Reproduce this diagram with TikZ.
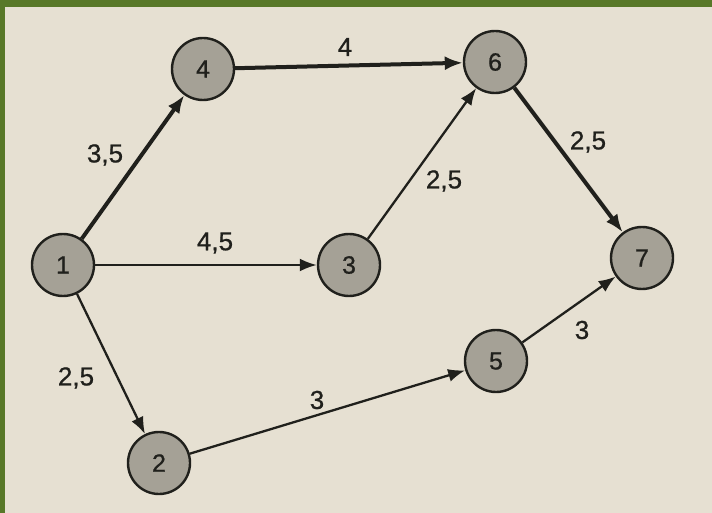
\documentclass[tikz,border=0pt]{standalone}
\usepackage{fontspec}
\setmainfont{Liberation Sans}
\newfontfamily\labfont[FakeBold=0.8]{Liberation Sans}
\usetikzlibrary{arrows.meta}
\definecolor{paper}{RGB}{230,224,210}
\definecolor{leaf}{RGB}{88,120,40}
\definecolor{nodefill}{RGB}{165,161,150}
\definecolor{ink}{RGB}{32,32,28}
\tikzset{
  ev/.style={circle,draw=ink,line width=2.4pt,fill=nodefill,minimum size=62pt,inner sep=0pt,font=\labfont\fontsize{25}{25}\selectfont,text=ink},
  thin/.style={draw=ink,line width=2.3pt,-{Latex[length=17pt,width=13pt]}},
  thick/.style={draw=ink,line width=4pt,-{Latex[length=18pt,width=14pt]}},
  lab/.style={font=\labfont\fontsize{26}{26}\selectfont,text=ink}
}
\begin{document}
\begin{tikzpicture}[x=1pt,y=-1pt]
\useasboundingbox (0,0) rectangle (712,513);
\fill[leaf] (0,0) rectangle (712,513);
\fill[paper] (5,7) rectangle (712,513);
\node[ev] (n1) at (63,265) {1};
\node[ev] (n4) at (203,69) {4};
\node[ev] (n6) at (495,62) {6};
\node[ev] (n3) at (349,265) {3};
\node[ev] (n7) at (642,258) {7};
\node[ev] (n5) at (496,361) {5};
\node[ev] (n2) at (159,463) {2};
\draw[thick] (n1) -- (n4);
\draw[thick] (n4) -- (n6);
\draw[thick] (n6) -- (n7);
\draw[thin] (n1) -- (n3);
\draw[thin] (n3) -- (n6);
\draw[thin] (n1) -- (n2);
\draw[thin] (n2) -- (n5);
\draw[thin] (n5) -- (n7);
\node[lab] (l46) at (345,47) {4};
\node[lab] (l14) at (105,155) {3,5};
\node[lab] (l13) at (215,243) {4,5};
\node[lab] (l36) at (444,181) {2,5};
\node[lab] (l67) at (588,142) {2,5};
\node[lab] (l57) at (582,330) {3};
\node[lab] (l25) at (317,400) {3};
\node[lab] (l12) at (76,378) {2,5};
\end{tikzpicture}
\end{document}
